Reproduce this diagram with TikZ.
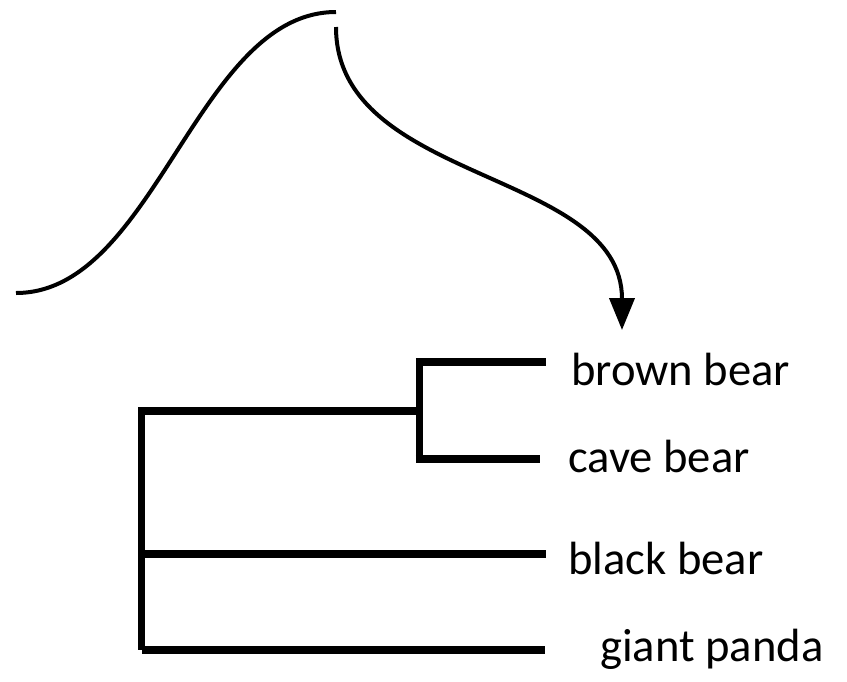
\documentclass[tikz,border=0pt]{standalone}
\usepackage{fontspec}
\setmainfont{Carlito}
\usetikzlibrary{arrows.meta}
\begin{document}
\begin{tikzpicture}[x=1pt,y=-1pt,
  curveline/.style={line width=4pt},
  treeline/.style={line width=7.5pt,line cap=butt},
  leaf/.style={anchor=base west,inner sep=0pt,font=\fontsize{46.6}{50}\selectfont}]
\useasboundingbox (0,0) rectangle (847,681);
% curves
\coordinate (c1s) at (16,293);
\coordinate (c1e) at (336,12);
\coordinate (c2s) at (336,27);
\coordinate (c2e) at (622,330);
\draw[curveline] (c1s) .. controls (155,293) and (197,12) .. (c1e);
\draw[curveline,-{Triangle[width=25pt,length=32pt]}] (c2s) .. controls (336,184) and (622,169) .. (c2e);
% labels
\node[leaf] (brown) at (571,385) {brown bear};
\node[leaf] (cave) at (568,472) {cave bear};
\node[leaf] (black) at (568,574) {black bear};
\node[leaf] (panda) at (600,661) {giant panda};
% tree coordinates
\coordinate (rootTop) at (141.5,411);
\coordinate (rootBot) at (141.5,650);
\coordinate (rootMid) at (141.5,554);
\coordinate (innerTop) at (419.5,362);
\coordinate (innerBot) at (419.5,459);
\coordinate (innerMid) at (419.5,411);
\coordinate (brownEnd) at (546,362);
\coordinate (caveEnd) at (540,459);
\coordinate (blackEnd) at (546,554);
\coordinate (pandaEnd) at (545,650);
% tree
\draw[treeline] (rootTop) ++(0,0) -- (rootBot);
\draw[treeline] (138,411) -- (innerMid);
\draw[treeline] (innerTop) ++(0,-3.75) -- ([yshift=3.75pt]innerBot);
\draw[treeline] (415.75,362) -- (brownEnd);
\draw[treeline] (415.75,459) -- (caveEnd);
\draw[treeline] (rootMid) -- (blackEnd);
\draw[treeline] (141.5,650) -- (pandaEnd);
\end{tikzpicture}
\end{document}
